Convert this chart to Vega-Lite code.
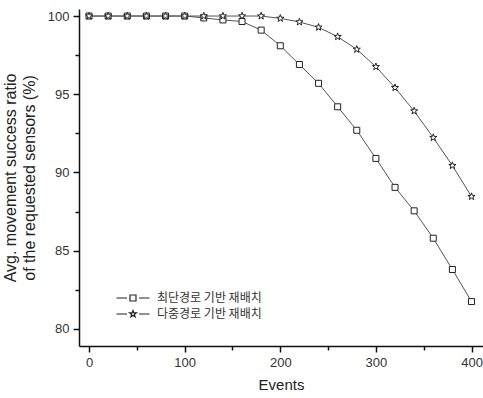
{
  "$schema": "https://vega.github.io/schema/vega-lite/v6.json",
  "autosize": "none",
  "width": 404,
  "height": 337,
  "padding": {"left": 79, "top": 9, "right": 0, "bottom": 52},
  "background": "white",
  "config": {
    "view": {"stroke": null},
    "font": "Liberation Sans",
    "axis": {"grid": false, "domainColor": "#111", "domainWidth": 1.5, "tickColor": "#111", "tickWidth": 1.5, "labelFont": "Liberation Sans", "labelFontSize": 13, "labelColor": "#333", "titleFont": "Liberation Sans", "titleFontWeight": "normal", "titleColor": "#222"}
  },
  "data": {
    "values": [
      {"events": 0, "ratio": 100, "series": "최단경로 기반 재배치"},
      {"events": 20, "ratio": 100, "series": "최단경로 기반 재배치"},
      {"events": 40, "ratio": 100, "series": "최단경로 기반 재배치"},
      {"events": 60, "ratio": 100, "series": "최단경로 기반 재배치"},
      {"events": 80, "ratio": 100, "series": "최단경로 기반 재배치"},
      {"events": 100, "ratio": 100, "series": "최단경로 기반 재배치"},
      {"events": 120, "ratio": 99.88, "series": "최단경로 기반 재배치"},
      {"events": 140, "ratio": 99.75, "series": "최단경로 기반 재배치"},
      {"events": 160, "ratio": 99.65, "series": "최단경로 기반 재배치"},
      {"events": 180, "ratio": 99.1, "series": "최단경로 기반 재배치"},
      {"events": 200, "ratio": 98.1, "series": "최단경로 기반 재배치"},
      {"events": 220, "ratio": 96.9, "series": "최단경로 기반 재배치"},
      {"events": 240, "ratio": 95.7, "series": "최단경로 기반 재배치"},
      {"events": 260, "ratio": 94.2, "series": "최단경로 기반 재배치"},
      {"events": 280, "ratio": 92.7, "series": "최단경로 기반 재배치"},
      {"events": 300, "ratio": 90.9, "series": "최단경로 기반 재배치"},
      {"events": 320, "ratio": 89.05, "series": "최단경로 기반 재배치"},
      {"events": 340, "ratio": 87.55, "series": "최단경로 기반 재배치"},
      {"events": 360, "ratio": 85.8, "series": "최단경로 기반 재배치"},
      {"events": 380, "ratio": 83.8, "series": "최단경로 기반 재배치"},
      {"events": 400, "ratio": 81.75, "series": "최단경로 기반 재배치"},
      {"events": 0, "ratio": 100, "series": "다중경로 기반 재배치"},
      {"events": 20, "ratio": 100, "series": "다중경로 기반 재배치"},
      {"events": 40, "ratio": 100, "series": "다중경로 기반 재배치"},
      {"events": 60, "ratio": 100, "series": "다중경로 기반 재배치"},
      {"events": 80, "ratio": 100, "series": "다중경로 기반 재배치"},
      {"events": 100, "ratio": 100, "series": "다중경로 기반 재배치"},
      {"events": 120, "ratio": 100, "series": "다중경로 기반 재배치"},
      {"events": 140, "ratio": 100, "series": "다중경로 기반 재배치"},
      {"events": 160, "ratio": 100, "series": "다중경로 기반 재배치"},
      {"events": 180, "ratio": 100, "series": "다중경로 기반 재배치"},
      {"events": 200, "ratio": 99.85, "series": "다중경로 기반 재배치"},
      {"events": 220, "ratio": 99.62, "series": "다중경로 기반 재배치"},
      {"events": 240, "ratio": 99.28, "series": "다중경로 기반 재배치"},
      {"events": 260, "ratio": 98.68, "series": "다중경로 기반 재배치"},
      {"events": 280, "ratio": 97.87, "series": "다중경로 기반 재배치"},
      {"events": 300, "ratio": 96.76, "series": "다중경로 기반 재배치"},
      {"events": 320, "ratio": 95.42, "series": "다중경로 기반 재배치"},
      {"events": 340, "ratio": 93.93, "series": "다중경로 기반 재배치"},
      {"events": 360, "ratio": 92.23, "series": "다중경로 기반 재배치"},
      {"events": 380, "ratio": 90.44, "series": "다중경로 기반 재배치"},
      {"events": 400, "ratio": 88.46, "series": "다중경로 기반 재배치"}
    ]
  },
  "layer": [
    {
      "mark": {"type": "line", "stroke": "#555", "strokeWidth": 1},
      "encoding": {
        "x": {"field": "events", "type": "quantitative", "scale": {"domain": [-10.5, 412], "nice": false, "zero": false},
          "axis": {"orient": "bottom", "values": [0, 100, 200, 300, 400], "tickSize": 6, "labelPadding": 4, "title": "Events", "titleFontSize": 15, "titlePadding": 8}},
        "y": {"field": "ratio", "type": "quantitative", "scale": {"domain": [78.91, 100.45], "nice": false, "zero": false},
          "axis": {"orient": "left", "values": [80, 85, 90, 95, 100], "tickSize": 6, "labelPadding": 4, "title": ["Avg. movement success ratio", "of the requested sensors (%)"], "titleFontSize": 16, "titlePadding": 10, "titleLineHeight": 19}},
        "detail": {"field": "series"}
      }
    },
    {
      "transform": [{"filter": "datum.series === '최단경로 기반 재배치'"}],
      "mark": {"type": "point", "shape": "square", "size": 36, "filled": true, "fill": "white", "stroke": "#222", "strokeWidth": 1, "opacity": 1},
      "encoding": {
        "x": {"field": "events", "type": "quantitative", "axis": null},
        "y": {"field": "ratio", "type": "quantitative", "axis": null}
      }
    },
    {
      "transform": [{"filter": "datum.series === '다중경로 기반 재배치'"}],
      "mark": {"type": "point", "shape": "M0,-1L0.235,-0.324L0.951,-0.309L0.38,0.124L0.588,0.809L0,0.4L-0.588,0.809L-0.38,0.124L-0.951,-0.309L-0.235,-0.324Z", "size": 56, "filled": true, "fill": "white", "stroke": "#222", "strokeWidth": 1, "opacity": 1},
      "encoding": {
        "x": {"field": "events", "type": "quantitative", "axis": null},
        "y": {"field": "ratio", "type": "quantitative", "axis": null}
      }
    },
    {
      "transform": [{"filter": "datum.events < -100"}],
      "mark": {"type": "point", "filled": false, "stroke": "#222", "strokeWidth": 1.2, "opacity": 1},
      "encoding": {
        "x": {"field": "events", "type": "quantitative",
          "axis": {"orient": "bottom", "values": [50, 150, 250, 350], "tickSize": 4, "labels": false, "domain": false, "title": null}},
        "y": {"field": "ratio", "type": "quantitative",
          "axis": {"orient": "left", "values": [82.5, 87.5, 92.5, 97.5], "tickSize": 4, "labels": false, "domain": false, "title": null}},
        "shape": {"field": "series", "type": "nominal",
          "scale": {"domain": ["최단경로 기반 재배치", "다중경로 기반 재배치"], "range": [
            "M-3.3,0H-1.2M-0.6,-0.6H0.6V0.6H-0.6ZM1.2,0H3.3",
            "M-3.3,0H-1.2M0,-0.7L0.165,-0.227L0.666,-0.216L0.266,0.087L0.412,0.566L0,0.28L-0.412,0.566L-0.266,0.087L-0.666,-0.216L-0.165,-0.227ZM1.2,0H3.3"
          ]},
          "legend": {"orient": "none", "legendX": 48, "legendY": 283, "title": null, "padding": 0, "symbolSize": 100, "symbolStrokeWidth": 1.2, "symbolStrokeColor": "#222", "symbolOpacity": 1, "labelOffset": 18, "labelFont": "Noto Sans CJK KR", "labelFontSize": 12, "labelColor": "#333", "rowPadding": 4}
        }
      }
    }
  ],
  "resolve": {"axis": {"x": "independent", "y": "independent"}}
}
